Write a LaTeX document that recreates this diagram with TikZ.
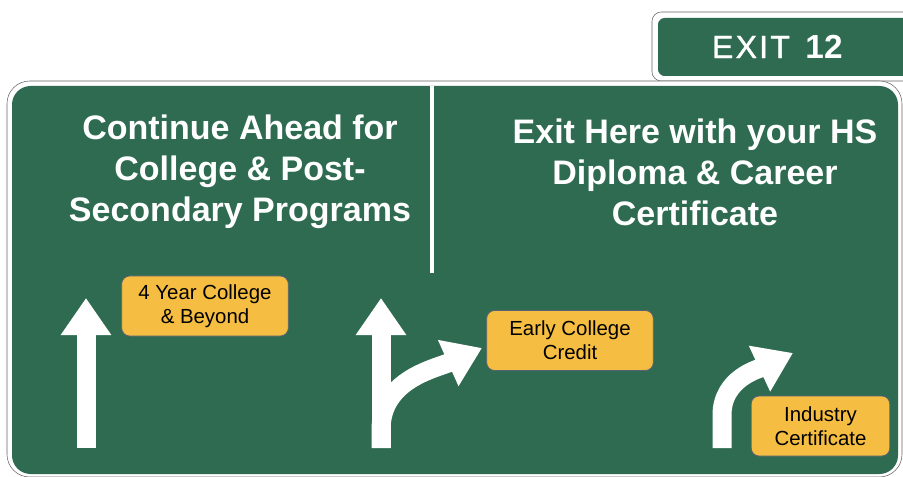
\documentclass[tikz,border=0pt]{standalone}
\usepackage{fontspec}
\setmainfont{Liberation Sans}
\usetikzlibrary{arrows.meta}
\definecolor{signgreen}{RGB}{46,107,81}
\definecolor{signyellow}{RGB}{245,190,66}
\definecolor{tagedge}{RGB}{88,96,118}
\definecolor{rimgray}{RGB}{100,100,100}
\begin{document}
\begin{tikzpicture}[x=0.75pt,y=-0.75pt,
    title/.style={text=white,align=center,font=\fontsize{25.5}{30.75}\selectfont\bfseries},
    tag/.style={fill=signyellow,draw=tagedge,line width=0.6pt,rounded corners=6pt,
        minimum width=125pt,minimum height=45pt,align=center,
        font=\fontsize{15.3}{18}\selectfont},
    lane/.style={white,line width=14.25pt,-{Triangle[width=36pt,length=27.75pt]}}]
    \useasboundingbox (0,0) rectangle (903,477);
    \clip (0,0) rectangle (903,477);
    % overhead panel with the exit plate on top
    \draw[rimgray,fill=white,rounded corners=7pt] (652,12) rectangle (940,81);
    \fill[signgreen,rounded corners=5pt] (658,18) rectangle (935,76);
    \draw[rimgray,fill=white,rounded corners=17pt] (7,81) rectangle (902,477);
    \fill[signgreen,rounded corners=14pt] (12,86) rectangle (898,474);
    \node[text=white,font=\fontsize{24}{24}\selectfont\addfontfeatures{LetterSpace=7,FakeBold=1.2}] (exitword) at (751,47) {EXIT};
    \node[text=white,font=\fontsize{25}{25}\selectfont\bfseries] (exitnum) at (824,47) {12};
    \node[title] (ahead) at (240,172) {Continue Ahead for\\College \& Post-\\Secondary Programs};
    \node[title] (offramp) at (695,172) {Exit Here with your HS\\Diploma \& Career\\Certificate};
    \coordinate (divtop) at (432,86);
    \coordinate (divfoot) at (432,273);
    \draw[white,line width=2.5pt] (divtop) -- (divfoot);
    \node[tag] (college) at (205,306) {4 Year College\\\& Beyond};
    \node[tag] (credit) at (570,340.5) {Early College\\Credit};
    \node[tag,minimum width=104pt] (industry) at (820.5,426) {Industry\\Certificate};
    \coordinate (foot1) at (86,448);
    \coordinate (tip1) at (86,298);
    \coordinate (foot2) at (381,448);
    \coordinate (tip2) at (381,298);
    \coordinate (bend2) at (381,430);
    \coordinate (tip3) at (482,348);
    \coordinate (foot4) at (722,448);
    \coordinate (bend4) at (722,415);
    \coordinate (tip4) at (793,353);
    \draw[lane] (foot1) -- (tip1);
    \draw[lane] (foot2) -- (tip2);
    \draw[lane] (foot2) -- (bend2) to[out=90,in=204] (tip3);
    \draw[lane] (foot4) -- (bend4) to[out=90,in=205] (tip4);
\end{tikzpicture}
\end{document}
